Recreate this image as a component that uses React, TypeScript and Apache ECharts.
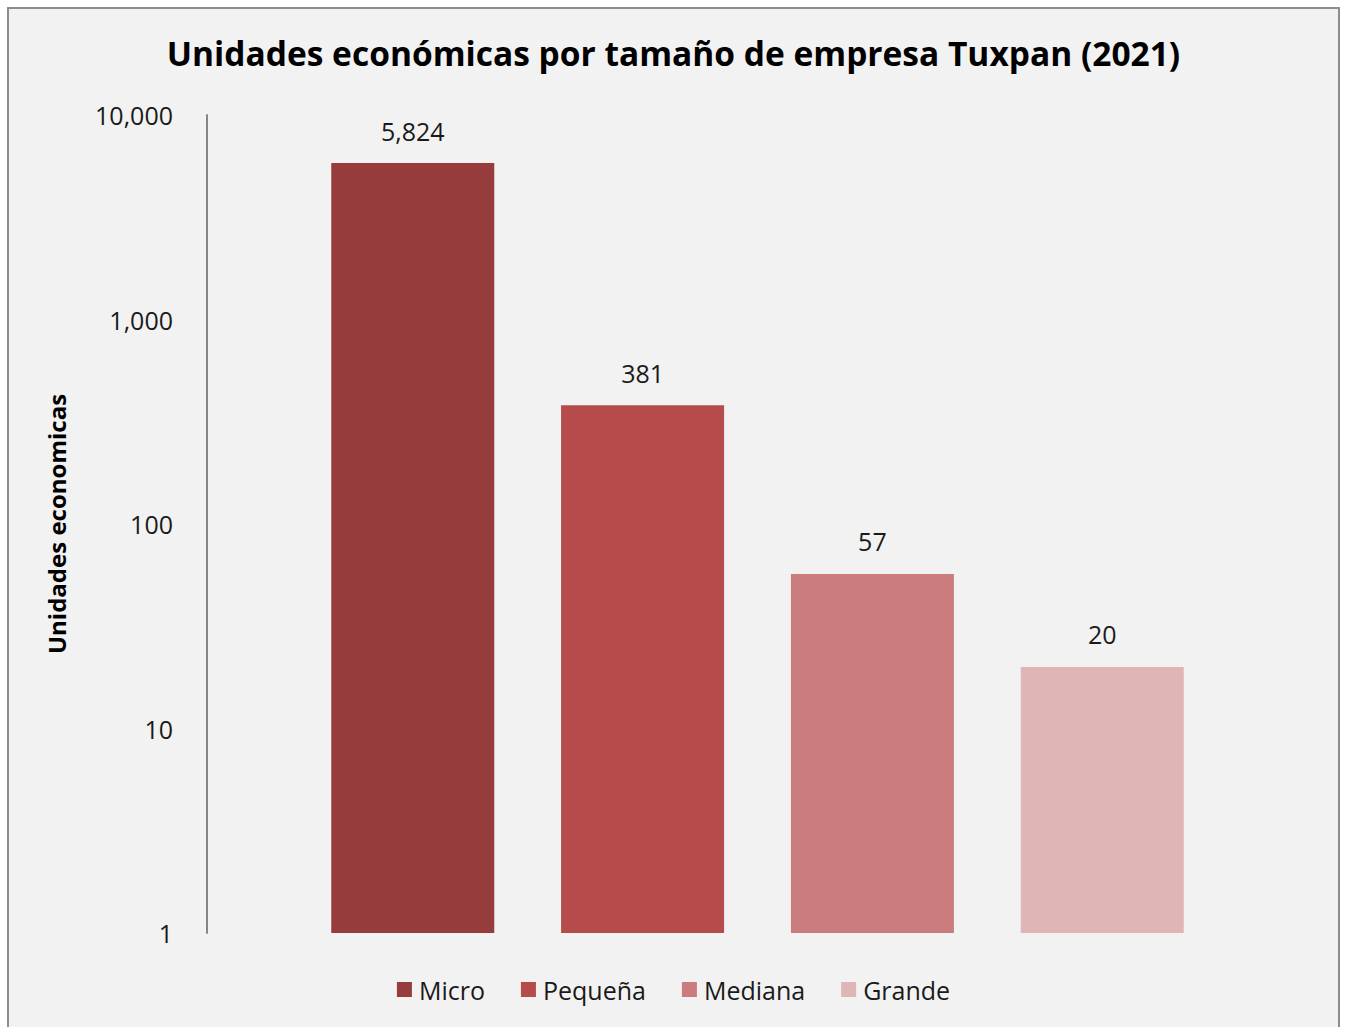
import React, { useEffect, useRef } from "react";
import * as echarts from "echarts";

const categories = ["Tuxpan"];
const seriesNames = ["Micro", "Pequeña", "Mediana", "Grande"];
const seriesValues = [5824, 381, 57, 20];
const seriesColors = ["#963c3c", "#b54b4a", "#cb7c7c", "#dfb5b6"];
const titleText = "Unidades económicas por tamaño de empresa Tuxpan (2021)";
const yAxisName = "Unidades economicas";

const FONT = "'Open Sans', 'Noto Sans', sans-serif";

export default function App() {
  const ref = useRef<HTMLDivElement>(null);
  useEffect(() => {
    if (!ref.current) return;
    const chart = echarts.init(ref.current, null, { renderer: "svg" });
    const fmt = (v: number) => Number(v).toLocaleString("en-US");
    chart.setOption({
      animation: false,
      backgroundColor: "#f2f2f2",
      textStyle: { fontFamily: FONT },
      title: {
        text: titleText,
        left: "center",
        top: 22,
        textStyle: { fontFamily: FONT, fontSize: 33.5, fontWeight: "bold", color: "#000" },
      },
      legend: {
        data: seriesNames,
        top: 963,
        left: "center",
        icon: "rect",
        itemWidth: 15,
        itemHeight: 15,
        itemGap: 36,
        textStyle: { fontFamily: FONT, fontSize: 25, color: "#1a1a1a", padding: [0, 0, 0, 2] },
      },
      grid: { left: 198, top: 106, width: 1101, height: 818, containLabel: false },
      xAxis: {
        type: "category",
        data: categories,
        axisLine: { show: false },
        axisTick: { show: false },
        axisLabel: { show: false },
      },
      yAxis: {
        type: "log",
        logBase: 10,
        min: 1,
        max: 10000,
        name: yAxisName,
        nameLocation: "middle",
        nameGap: 139,
        nameTextStyle: { fontFamily: FONT, fontSize: 24, fontWeight: "bold", color: "#000" },
        axisLine: { show: true, lineStyle: { color: "#868686", width: 2 } },
        axisTick: { show: false },
        splitLine: { show: false },
        axisLabel: {
          formatter: (v: number) => fmt(v),
          fontFamily: FONT,
          fontSize: 25,
          color: "#1a1a1a",
          margin: 34,
          padding: [0, 0, 5, 0],
        },
      },
      series: seriesNames.map((name, i) => ({
        name,
        type: "bar",
        barWidth: 163,
        barGap: "41%",
        data: [seriesValues[i]],
        itemStyle: { color: seriesColors[i] },
        label: {
          show: true,
          position: "top",
          distance: 20,
          formatter: (p: any) => fmt(p.value),
          fontFamily: FONT,
          fontSize: 25,
          color: "#1a1a1a",
        },
      })),
    });
    return () => chart.dispose();
  }, []);
  return (
    <div
      style={{
        position: "absolute",
        left: 7,
        top: 7,
        border: "2px solid #8d8d8d",
        width: 1329,
        height: 1040,
        background: "#f2f2f2",
      }}
    >
      <div ref={ref} style={{ width: 1329, height: 1040 }} />
    </div>
  );
}
